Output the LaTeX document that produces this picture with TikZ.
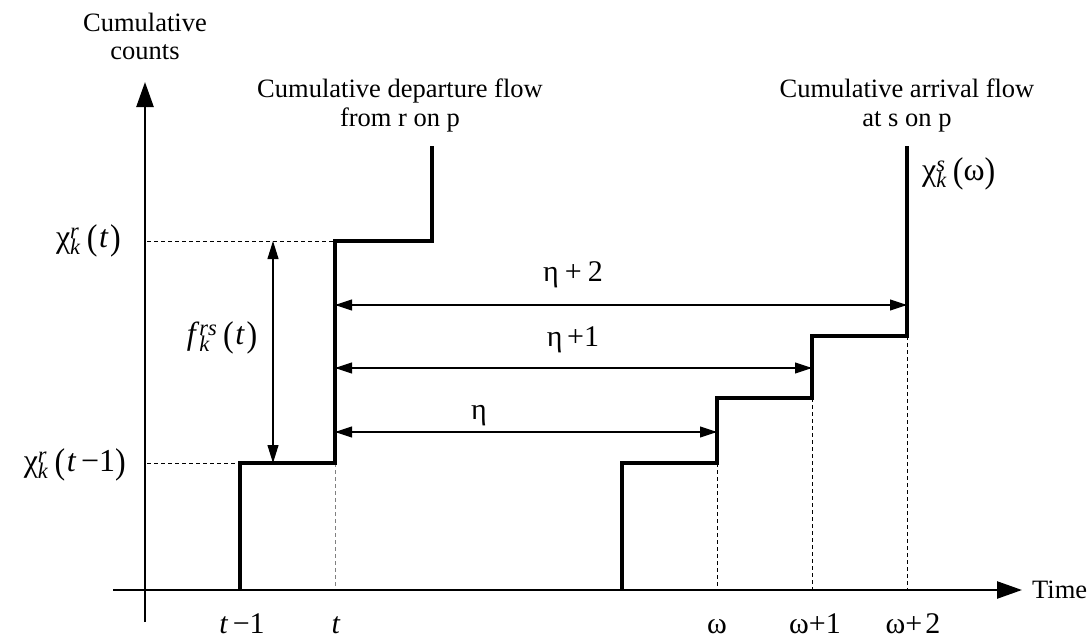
\documentclass[tikz,border=0pt]{standalone}
\usepackage{fontspec}
\setmainfont{Liberation Serif}
\usepackage{graphicx}
\usetikzlibrary{arrows.meta}
\newcommand{\ssc}[2]{\setbox0\hbox{\textsuperscript{#1}}\setbox2\hbox{\textsubscript{#2}}\ifdim\wd0>\wd2 \rlap{\box2}\box0\else\rlap{\box0}\box2\fi}
\newcommand{\mylp}{\raisebox{-0.06em}{\scalebox{1}[1.12]{(}}}
\newcommand{\myrp}{\raisebox{-0.06em}{\scalebox{1}[1.12]{)}}}
\tikzset{
  lab/.style={font=\fontsize{26.5}{28}\selectfont, inner sep=0pt},
  mlab/.style={font=\fontsize{32}{34}\selectfont, inner sep=0pt},
  blab/.style={font=\fontsize{30}{32}\selectfont, inner sep=0pt, anchor=base},
  axis/.style={line width=2.5pt, -{Triangle[length=25pt,width=17pt]}},
  flow/.style={line width=4pt, line join=miter},
  guide/.style={line width=0.9pt, dashed, dash pattern=on 4pt off 3pt},
  span/.style={line width=1.1pt, -{Triangle[length=17pt,width=11pt]}},
  dspan/.style={line width=1.1pt, {Triangle[length=18pt,width=11pt]}-{Triangle[length=18pt,width=11pt]}}
}
\begin{document}
\begin{tikzpicture}[x=1pt,y=-1pt]
\useasboundingbox (0,0) rectangle (1090,640);
% axes
\coordinate (yb) at (145,622);
\coordinate (yt) at (145,82);
\coordinate (xl) at (113,590);
\coordinate (xr) at (1022,590);
% departure staircase
\coordinate (d0) at (240,590);
\coordinate (d1) at (240,463);
\coordinate (d2) at (335,463);
\coordinate (d3) at (335,241);
\coordinate (d4) at (432,241);
\coordinate (d5) at (432,146);
% arrival staircase
\coordinate (a0) at (622,590);
\coordinate (a1) at (622,463);
\coordinate (a2) at (717,463);
\coordinate (a3) at (717,398);
\coordinate (a4) at (812,398);
\coordinate (a5) at (812,336);
\coordinate (a6) at (907,336);
\coordinate (a7) at (907,146);
% guide feet
\coordinate (xt) at (335,590);
\coordinate (xw0) at (717,590);
\coordinate (xw1) at (812,590);
\coordinate (xw2) at (907,590);
\coordinate (yt1) at (147,463);
\coordinate (yt0) at (147,241);
% span endpoints
\coordinate (e2s) at (335,305);
\coordinate (e2e) at (907,305);
\coordinate (e1s) at (335,368);
\coordinate (e1e) at (812,368);
\coordinate (e0s) at (335,432);
\coordinate (e0e) at (717,432);
\coordinate (ft) at (273,241);
\coordinate (fb) at (273,463);

% guides
\draw[guide] (yt0) -- (d3);
\draw[guide] (yt1) -- (d1);
\draw[guide, gray] (d2) -- (xt);
\draw[guide] (a2) -- (xw0);
\draw[guide] (a4) -- (xw1);
\draw[guide] (a6) -- (xw2);

% axes
\draw[axis] (yb) -- (yt);
\draw[axis] (xl) -- (xr);

% staircases
\draw[flow] (d0) -- (d1) -- (d2) -- (d3) -- (d4) -- (d5);
\draw[flow] (a0) -- (a1) -- (a2) -- (a3) -- (a4) -- (a5) -- (a6) -- (a7);

% spans
\draw[span] (e2s) -- (e2e);
\draw[span] (e1s) -- (e1e);
\draw[span] (e0s) -- (e0e);
\draw[span] (e2e) -- (e2s);
\draw[span] (e1e) -- (e1s);
\draw[span] (e0e) -- (e0s);
\draw[dspan] (ft) -- (fb);

% text labels
\node[lab, anchor=base] (ylab1) at (145,31) {Cumulative};
\node[lab, anchor=base] (ylab2) at (145,59) {counts};
\node[lab, anchor=base west] (xlab) at (1032,598) {Time};
\node[lab, anchor=base] (dep1) at (400,97) {Cumulative departure flow};
\node[lab, anchor=base] (dep2) at (400,126) {from r on p};
\node[lab, anchor=base] (arr1) at (907,97) {Cumulative arrival flow};
\node[lab, anchor=base] (arr2) at (907,126) {at s on p};

% math labels
\node[mlab, anchor=east] (chit) at (121,241) {χ\ssc{\textit{r}}{\textit{k}}\hspace{0.18em}\mylp\hspace{0.05em}\textit{t}\hspace{0.05em}\myrp};
\node[mlab, anchor=east] (chit1) at (126,465) {χ\ssc{\textit{r}}{\textit{k}}\hspace{0.18em}\mylp\hspace{0.05em}\textit{t}\hspace{0.15em}−1\myrp};
\node[mlab] (flab) at (222,338) {\textit{f}\ssc{\textit{rs}}{\textit{k}}\hspace{0.18em}\mylp\hspace{0.05em}\textit{t}\hspace{0.05em}\myrp};
\node[mlab, anchor=west] (chis) at (922,174) {χ\ssc{\textit{s}}{\textit{k}}\hspace{0.18em}\mylp ω\myrp};

\node[blab] (eta2) at (573,281) {η\hspace{0.2em}+\hspace{0.2em}2};
\node[blab] (eta1) at (573,346) {η\hspace{0.15em}+1};
\node[blab] (eta0) at (479,419) {η};

\node[blab] (tm1) at (242,633) {\textit{t}\hspace{0.15em}−1};
\node[blab] (tt) at (336,633) {\textit{t}};
\node[blab] (w0) at (717,633) {ω};
\node[blab] (w1) at (815,633) {ω+1};
\node[blab] (w2) at (913,633) {ω+\hspace{0.1em}2};
\end{tikzpicture}
\end{document}
